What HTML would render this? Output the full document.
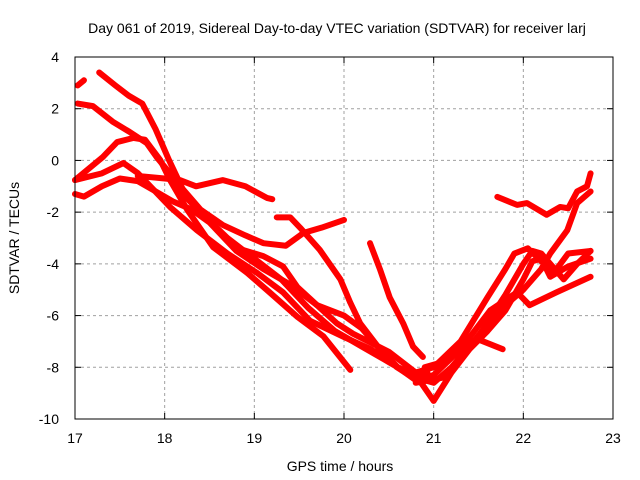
<!DOCTYPE html>
<html><head><meta charset="utf-8"><style>
body{margin:0;background:#fff}
svg{display:block;font-family:"Liberation Sans",sans-serif}
</style></head><body>
<svg id="chart" width="640" height="480">
<text x="337" y="33" font-size="14" text-anchor="middle">Day 061 of 2019, Sidereal Day-to-day VTEC variation (SDTVAR) for receiver larj</text>
<text x="340" y="471" font-size="14" text-anchor="middle">GPS time / hours</text>
<text transform="translate(19,238) rotate(-90)" font-size="14" text-anchor="middle">SDTVAR / TECUs</text>
<g id="grid"></g><g id="ticks"></g><g id="series"></g>
<rect x="75" y="57" width="538" height="362" fill="none" stroke="#000" stroke-width="1"/>
</svg>
<script>
const xTicks=[17,18,19,20,21,22,23];
const yTicks=[4,2,0,-2,-4,-6,-8,-10];
const t1=[[17.27,3.4],[17.45,2.9],[17.6,2.5],[17.75,2.2],[17.9,1.2],[18.05,0.0],[18.2,-1.1],[18.4,-1.9],[18.65,-2.5],[18.9,-2.9],[19.1,-3.2],[19.35,-3.3],[19.55,-2.8],[19.75,-2.6],[20.0,-2.3]];
const t2=[[17.03,2.2],[17.2,2.1],[17.42,1.5],[17.61,1.1],[17.8,0.67],[17.91,0.13],[18.06,-0.5],[18.2,-1.3],[18.4,-2.0],[18.7,-3.0],[19.0,-3.8],[19.3,-4.6],[19.6,-5.7],[19.9,-6.6],[20.2,-7.2],[20.5,-7.8],[20.8,-8.4],[21.0,-8.6],[21.2,-8.0],[21.5,-6.8],[21.8,-5.2],[22.0,-4.0],[22.1,-3.5],[22.2,-3.6],[22.45,-4.6],[22.6,-4.0],[22.75,-3.5]];
const t3=[[17.0,-0.76],[17.31,0.13],[17.47,0.71],[17.65,0.87],[17.78,0.8],[17.95,0.02],[18.06,-0.76],[18.25,-1.9],[18.54,-3.35],[18.92,-4.35],[19.17,-5.1],[19.48,-6.05],[19.77,-6.8],[20.07,-8.1]];
const t4=[[17.0,-0.76],[17.3,-0.5],[17.54,-0.1],[17.7,-0.49],[17.84,-1.0],[18.06,-1.8],[18.36,-2.7],[18.7,-3.6],[19.03,-4.35],[19.32,-5.1],[19.62,-6.2],[20.0,-6.83],[20.3,-7.3],[20.6,-8.0],[20.8,-8.5],[21.0,-8.3],[21.3,-7.3],[21.63,-5.8],[21.93,-5.1],[22.07,-5.6],[22.37,-5.1],[22.75,-4.5]];
const t5=[[17.0,-1.3],[17.1,-1.4],[17.3,-1.0],[17.5,-0.7],[17.7,-0.8],[17.9,-1.2],[18.1,-1.6],[18.3,-1.9],[18.5,-2.4],[18.8,-3.5],[19.1,-4.2],[19.4,-4.8],[19.7,-5.6],[20.0,-6.0],[20.2,-6.5],[20.4,-7.3],[20.6,-8.0],[20.8,-8.3],[21.0,-9.3],[21.2,-8.2],[21.4,-7.3],[21.6,-6.6],[21.8,-5.8],[22.0,-4.6],[22.1,-3.9],[22.2,-3.8],[22.3,-4.5],[22.5,-4.1],[22.75,-3.8]];
const t6=[[17.7,-0.6],[18.0,-0.7],[18.17,-0.76],[18.35,-1.0],[18.65,-0.76],[18.9,-1.0],[19.14,-1.45],[19.2,-1.5]];
const t7=[[18.87,-3.46],[19.1,-3.7],[19.32,-4.1],[19.48,-4.9],[19.7,-5.6],[19.92,-6.3],[20.1,-6.7],[20.5,-7.4],[20.8,-8.2],[21.0,-8.0],[21.3,-7.0],[21.6,-5.3],[21.8,-4.2],[21.9,-3.6],[22.05,-3.4],[22.2,-3.9],[22.35,-4.3],[22.5,-3.6],[22.75,-3.5]];
const t8=[[19.25,-2.2],[19.4,-2.2],[19.51,-2.6],[19.73,-3.46],[19.96,-4.6],[20.07,-5.5],[20.18,-6.3],[20.4,-7.3],[20.59,-8.0],[20.77,-8.4],[20.93,-8.2]];
const t9=[[20.29,-3.2],[20.4,-4.2],[20.51,-5.3],[20.66,-6.3],[20.77,-7.2],[20.88,-7.6]];
const t10=[[21.71,-1.41],[21.93,-1.72],[22.04,-1.65],[22.26,-2.1],[22.41,-1.8],[22.5,-1.85],[22.6,-1.2],[22.71,-1.0],[22.75,-0.5]];
const t11=[[20.9,-8.0],[21.1,-7.8],[21.3,-7.4],[21.48,-6.9],[21.77,-7.3]];
const t12=[[20.8,-8.6],[21.1,-8.4],[21.4,-7.2],[21.7,-5.9],[22.0,-5.0],[22.2,-4.2],[22.3,-3.6],[22.49,-2.7],[22.6,-1.65],[22.75,-1.2]];
const t13=[[17.03,2.9],[17.1,3.1]];
const tracks=[t1,t2,t3,t4,t5,t6,t7,t8,t9,t10,t11,t12,t13];
const NS="http://www.w3.org/2000/svg";
const X0=75,X1=613,Y0=419,Y1=57;
function sx(h){return X0+(h-17)/(23-17)*(X1-X0);}
function sy(v){return Y0-(v+10)/14*(Y0-Y1);}
const grid=document.getElementById('grid'),ticks=document.getElementById('ticks'),ser=document.getElementById('series');
function mk(tag,attrs,parent){const e=document.createElementNS(NS,tag);for(const k in attrs)e.setAttribute(k,attrs[k]);parent.appendChild(e);return e;}
xTicks.forEach(t=>{
  const x=sx(t);
  if(t>17&&t<23){const g=mk('line',{x1:x,x2:x,y1:Y1,y2:Y0,stroke:'#a0a0a0','stroke-dasharray':'3,3'},grid);
  
  }
  mk('line',{x1:x,x2:x,y1:Y0,y2:Y0-6,stroke:'#000'},ticks);
  mk('line',{x1:x,x2:x,y1:Y1,y2:Y1+6,stroke:'#000'},ticks);
  const l=mk('text',{x:x,y:443,'font-size':14,'text-anchor':'middle'},ticks);
  l.textContent=t;
  
  
});
yTicks.forEach(t=>{
  const y=sy(t);
  if(t>-10&&t<4){const g=mk('line',{x1:X0,x2:X1,y1:y,y2:y,stroke:'#a0a0a0','stroke-dasharray':'3,3'},grid);
  
  }
  mk('line',{x1:X0,x2:X0+6,y1:y,y2:y,stroke:'#000'},ticks);
  mk('line',{x1:X1,x2:X1-6,y1:y,y2:y,stroke:'#000'},ticks);
  const l=mk('text',{x:59,y:y+5,'font-size':14,'text-anchor':'end'},ticks);
  l.textContent=t;
  
  
});
tracks.forEach((tr,i)=>{
  const p=mk('polyline',{points:tr.map(d=>sx(d[0])+','+sy(d[1])).join(' '),fill:'none',stroke:'#ff0000','stroke-width':6,'stroke-linejoin':'round','stroke-linecap':'round'},ser);
  
  
});
</script>
</body></html>
